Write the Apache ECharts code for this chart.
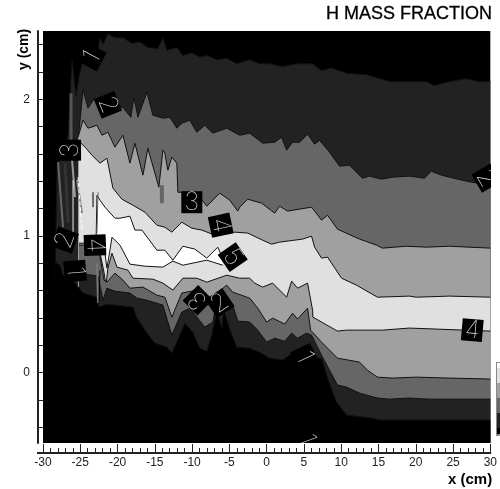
<!DOCTYPE html>
<html>
<head>
<meta charset="utf-8">
<title>H MASS FRACTION</title>
<style>html,body{margin:0;padding:0;background:#fff}#c{width:500px;height:489px}</style>
<script src="https://cdn.jsdelivr.net/npm/echarts@6/dist/echarts.min.js"></script>
</head>
<body>
<div id="c"></div>
<script>
// contour level curves, [x cm, y cm]; upper branches run above the core, lower branches below
const upper1 = [[-28.38,0.71],[-28.11,1.52],[-27.04,1.63],[-26.64,1.74],[-26.10,2.29],[-25.57,2.02],[-25.17,2.16],[-24.63,2.30],[-23.69,2.31],[-22.62,2.36],[-22.36,2.45],[-21.95,2.40],[-21.29,2.48],[-20.35,2.45],[-19.28,2.45],[-18.07,2.41],[-17.0,2.42],[-15.93,2.38],[-14.59,2.37],[-13.92,2.45],[-13.39,2.36],[-12.05,2.38],[-11.24,2.32],[-10.04,2.34],[-8.97,2.31],[-7.9,2.32],[-6.69,2.29],[-5.35,2.30],[-4.02,2.26],[-2.28,2.29],[-0.94,2.26],[0.40,2.26],[2.14,2.24],[4.02,2.26],[6.16,2.26],[7.36,2.21],[8.70,2.23],[10.71,2.19],[13.39,2.18],[16.47,2.13],[19.14,2.13],[21.42,2.13],[22.49,2.10],[24.5,2.13],[26.77,2.15],[28.51,2.13],[30,2.13]];
const upper2 = [[-25.30,1.70],[-24.63,2.07],[-23.96,1.935],[-23.03,2.015],[-21.95,1.94],[-20.62,1.957],[-19.28,1.94],[-18.21,1.869],[-17.80,2.015],[-17.27,1.869],[-16.06,2.052],[-15.26,1.884],[-13.92,1.862],[-12.99,1.869],[-12.05,1.789],[-11.38,1.825],[-10.31,1.847],[-9.37,1.759],[-8.30,1.81],[-7.23,1.752],[-5.35,1.789],[-3.61,1.737],[-2.28,1.752],[-0.54,1.679],[1.07,1.686],[2.01,1.723],[2.68,1.628],[3.48,1.686],[4.42,1.686],[5.49,1.745],[6.43,1.672],[7.10,1.70],[8.43,1.613],[9.77,1.511],[11.11,1.518],[12.85,1.423],[13.79,1.438],[15.39,1.416],[16.87,1.43],[19.14,1.438],[21.15,1.423],[22.09,1.474],[23.43,1.445],[26.24,1.408],[27.44,1.394],[30,1.372]];
const upper3 = [[-25.30,1.723],[-24.63,1.847],[-23.96,1.789],[-22.76,1.81],[-22.09,1.737],[-21.29,1.759],[-20.35,1.65],[-19.28,1.737],[-18.34,1.533],[-17.67,1.679],[-16.60,1.445],[-15.93,1.642],[-14.46,1.357],[-13.92,1.628],[-13.65,1.606],[-13.25,1.481],[-12.72,1.577],[-12.05,1.533],[-11.91,1.32],[-10.04,1.32],[-8.97,1.284],[-8.03,1.218],[-6.29,1.313],[-4.95,1.262],[-3.88,1.182],[-3.61,1.211],[-2.54,1.269],[-0.67,1.24],[1.07,1.167],[1.74,1.218],[2.81,1.182],[6.02,1.211],[7.36,1.116],[8.17,1.152],[9.50,1.05],[12.45,0.977],[14.73,0.933],[15.53,0.911],[18.74,0.925],[21.42,0.918],[24.5,0.925],[27.18,0.918],[30,0.911]];
const upper4 = [[-25.17,1.628],[-25.03,1.686],[-24.23,1.642],[-23.43,1.591],[-22.36,1.533],[-21.42,1.569],[-20.62,1.35],[-19.41,1.269],[-17.94,1.225],[-16.33,1.174],[-14.73,1.079],[-13.65,1.064],[-12.72,1.028],[-11.38,1.101],[-10.04,1.057],[-8.70,1.043],[-6.96,1.006],[-4.28,1.028],[-2.54,1.021],[-0.54,0.969],[0.67,0.94],[1.74,0.955],[4.82,0.977],[6.02,0.999],[6.43,0.918],[7.36,0.838],[8.17,0.845],[10.04,0.691],[12.05,0.64],[14.86,0.552],[19.14,0.56],[20.08,0.552],[24.5,0.56],[30,0.552]];
const upper5 = [[-22.89,0.933],[-22.76,1.298],[-22.36,1.262],[-21.69,1.211],[-20.35,1.13],[-19.68,1.13],[-18.34,1.145],[-17.67,1.043],[-16.73,1.043],[-14.73,0.896],[-13.65,0.896],[-12.58,0.823],[-11.24,0.925],[-9.64,0.904],[-8.03,0.838],[-6.56,0.918],[-5.89,0.838]];
const lower5 = [[-22.89,0.925],[-21.82,0.925],[-21.42,0.765],[-21.02,0.896],[-20.75,0.991],[-19.68,0.933],[-18.34,0.794],[-16.33,0.779],[-13.92,0.772],[-12.58,0.816],[-11.24,0.786],[-8.03,0.823],[-5.89,0.786]];
const lower4 = [[-25.17,0.947],[-22.62,0.947],[-21.82,0.735],[-21.55,0.64],[-21.29,0.765],[-20.75,0.874],[-20.08,0.772],[-18.61,0.75],[-17.94,0.691],[-15.26,0.684],[-13.92,0.655],[-12.58,0.604],[-11.24,0.691],[-9.37,0.691],[-8.03,0.662],[-5.35,0.713],[-3.61,0.691],[-2.28,0.691],[-1.61,0.655],[-0.54,0.626],[0.80,0.655],[2.68,0.552],[3.35,0.67],[4.15,0.618],[5.49,0.655],[6.16,0.457],[6.2,0.406],[9.50,0.304],[10.71,0.311],[15.53,0.311],[19.14,0.326],[30,0.304]];
const lower3 = [[-25.17,0.933],[-22.62,0.933],[-21.82,0.677],[-21.42,0.662],[-20.35,0.728],[-19.28,0.677],[-18.34,0.618],[-16.60,0.626],[-14.73,0.567],[-13.65,0.552],[-12.72,0.406],[-11.38,0.582],[-9.37,0.604],[-7.90,0.516],[-6.69,0.582],[-5.35,0.64],[-4.55,0.589],[-2.28,0.545],[-1.20,0.472],[0,0.37],[0.80,0.399],[2.41,0.355],[3.48,0.435],[4.15,0.392],[5.49,0.472],[5.89,0.311],[7.36,0.223],[9.50,0.106],[12.45,0.077],[13.52,0.018],[14.86,-0.033],[16.87,-0.04],[20.08,-0.033],[24.5,-0.04],[30,-0.047]];
const lower2 = [[-25.17,0.728],[-22.62,0.706],[-21.95,0.53],[-21.42,0.618],[-20.35,0.596],[-18.34,0.582],[-17.40,0.545],[-16.06,0.53],[-13.92,0.494],[-12.72,0.274],[-11.38,0.443],[-10.31,0.472],[-8.30,0.333],[-7.23,0.37],[-6.56,0.552],[-4.55,0.494],[-3.88,0.377],[-2.28,0.37],[-1.20,0.311],[0,0.223],[1.07,0.252],[2.41,0.23],[3.35,0.289],[4.15,0.252],[5.35,0.289],[6.02,0.274],[7.36,0.128],[9.50,-0.091],[10.71,-0.106],[12.45,-0.15],[14.86,-0.186],[16.47,-0.194],[19.14,-0.186],[21.82,-0.194],[30,-0.194]];
const lower1 = [[-28.38,0.808],[-27.71,0.786],[-27.31,0.713],[-26.37,0.677],[-25.70,0.655],[-24.63,0.582],[-22.76,0.552],[-22.49,0.479],[-21.42,0.501],[-17.94,0.479],[-17.40,0.399],[-16.06,0.289],[-14.99,0.216],[-13.39,0.187],[-12.72,0.143],[-12.05,0.223],[-10.98,0.362],[-9.91,0.296],[-8.97,0.179],[-8.03,0.157],[-7.36,0.274],[-6.69,0.457],[-6.02,0.326],[-5.76,0.457],[-4.95,0.318],[-4.02,0.187],[-2.28,0.179],[-0.94,0.15],[0.40,0.106],[2.14,0.092],[3.48,0.143],[5.49,0.113],[7.36,0.106],[8.17,-0.04],[9.37,-0.216],[10.71,-0.311],[14.19,-0.333],[15.13,-0.347],[30,-0.347]];

// thin streaks left of the main body
const streakA = [[-27.98,1.54],[-27.31,1.064]];
const streakB = [[-27.04,1.533],[-26.64,1.094]];
const streakC = [[-26.10,1.555],[-25.70,1.284]];
const streakD = [[-25.97,1.408],[-25.97,1.021]];
const streakE = [[-25.43,1.408],[-24.77,1.167]];
const streakF = [[-25.30,1.43],[-24.77,1.043]];
const streakG = [[-26.24,2.045],[-26.24,1.664]];
const streakH = [[-22.76,0.801],[-22.62,0.509]];
const streakI = [[-22.36,0.75],[-22.49,0.509]];
const streakJ = [[-22.62,1.32],[-22.76,1.021]];
const streakK = [[-23.29,1.32],[-23.29,1.211]];
const blob    = [[-14.06,1.372],[-14.06,1.24]];

// contour-label digits
const labelText = ['1','2','3','4','5','3','2','4','1','1','1','3','2','4','2'];
const labelX = [-23.43,-21.29,-10.04,-6.16,-4.55,-26.37,-27.04,-23.03,-25.7,5.09,5.35,-9.24,-6.29,27.58,29.45];
const labelY = [2.31,1.96,1.247,1.079,0.845,1.628,0.97,0.933,0.743,0.113,-0.49,0.53,0.509,0.311,1.423];

const xTickLabels = [-30,-25,-20,-15,-10,-5,0,5,10,15,20,25,30];
const yTickValues = [-0.4,-0.2,0,0.2,0.4,0.6,0.8,1,1.2,1.4,1.6,1.8,2,2.2,2.4];
const yTickLabels = [0,1,2];
const legendShades = ['#ffffff','#e0e0e0','#a0a0a0','#666666','#222222','#000000'];

const labelAngle = [62,-68,0,-78,-55,90,70,-88,-85,-65,-70,135,34,-5,-60];
const sans = '"Liberation Sans", Arial, sans-serif';

function band(data, fill, z) {
  return {type:'line', data, z, symbol:'none', silent:true, clip:true, animation:false,
    lineStyle:{color:'#111', width:1}, areaStyle:{color:fill, opacity:1, origin:'start'}};
}
function streak(data, color, width, type, z) {
  return {type:'line', data, z:z||20, symbol:'none', silent:true, clip:true, animation:false,
    lineStyle:{color, width, type:type||'solid'}};
}

const series = [
  band(upper1,'#222222',2), band(upper2,'#666666',3), band(upper3,'#a0a0a0',4),
  band(upper4,'#e0e0e0',5), band(upper5,'#ffffff',6), band(lower5,'#e0e0e0',7),
  band(lower4,'#a0a0a0',8), band(lower3,'#666666',9), band(lower2,'#222222',10),
  band(lower1,'#000000',11),
  streak(streakA,'#666',2), streak(streakB,'#333',3), streak(streakC,'#999',2),
  streak(streakE,'#888',2), streak(streakD,'#eee',1), streak(streakF,'#fff',1,'dashed'),
  streak(streakG,'#555',3), streak(streakH,'#777',2), streak(streakI,'#000',1),
  streak(streakJ,'#666',1), streak(streakK,'#000',1), streak(blob,'#666',4),
  {type:'custom', z:30, clip:true, animation:false, silent:true,
   data: labelText.map((t,i)=>[labelX[i],labelY[i]]),
   encode:{x:0,y:1},
   renderItem(params, api){
     const p = api.coord([api.value(0), api.value(1)]);
     const i = params.dataIndex;
     return {type:'group', x:p[0], y:p[1], rotation:labelAngle[i]*Math.PI/180, children:[
       {type:'rect', shape:{x:-10.5,y:-11,width:21,height:22}, style:{fill:'#000'}},
       {type:'text', style:{text:labelText[i], x:0, y:0, align:'center', verticalAlign:'middle',
          fill:'#eeeeee', fontFamily:'Inter, Lato, "Open Sans", sans-serif', fontSize:25, fontWeight:100}}
     ]};
   }}
];

const chart = echarts.init(document.getElementById('c'), null, {renderer:'canvas'});
chart.setOption({
  animation:false,
  backgroundColor:'#fff',
  title:{text:'H MASS FRACTION', left:326, top:5, padding:0,
    textStyle:{fontFamily:sans, fontSize:18, fontWeight:'normal', color:'#000', textBorderColor:'#000', textBorderWidth:0.3}},
  grid:{left:43, right:9, top:31, height:412, show:true, backgroundColor:'#000', borderWidth:0},
  xAxis:{type:'value', min:-30, max:30, interval:5, offset:10,
    axisLine:{show:true, onZero:false, lineStyle:{color:'#222', width:2}},
    axisTick:{show:true, inside:true, length:9, lineStyle:{color:'#222', width:1}},
    minorTick:{show:true, splitNumber:5, length:5, lineStyle:{color:'#222', width:1}},
    splitLine:{show:false}, minorSplitLine:{show:false},
    axisLabel:{show:true, margin:4, color:'#222', fontFamily:sans, fontSize:12, showMinLabel:true, showMaxLabel:true,
      customValues:xTickLabels}},
  yAxis:{type:'value', min:-0.515, max:2.5, offset:5,
    axisLine:{show:true, onZero:false, lineStyle:{color:'#222', width:2}},
    axisTick:{show:true, inside:true, length:5, customValues:yTickValues, lineStyle:{color:'#222', width:1}},
    splitLine:{show:false},
    axisLabel:{show:true, margin:8, color:'#222', fontFamily:sans, fontSize:12, customValues:yTickLabels}},
  graphic:[
    {type:'text', left:448, top:472, style:{text:'x (cm)', fontFamily:sans, fontSize:15, fontWeight:'bold', fill:'#000'}},
    {type:'text', x:17, y:70, rotation:Math.PI/2, style:{text:'y (cm)', fontFamily:sans, fontSize:14, fontWeight:'bold', fill:'#000'}},
    {type:'line', shape:{x1:37,y1:453,x2:44,y2:453}, style:{stroke:'#222', lineWidth:2}},
    {type:'rect', shape:{x:496,y:362,width:4,height:74}, style:{fill:'#888'}},
    ...legendShades.map((c,i)=>({type:'rect', shape:{x:497,y:i===0?363:368+(i-1)*15,width:3,height:i===0?5:(i===5?6:15)}, style:{fill:c}}))
  ],
  series
});
</script>
</body>
</html>
